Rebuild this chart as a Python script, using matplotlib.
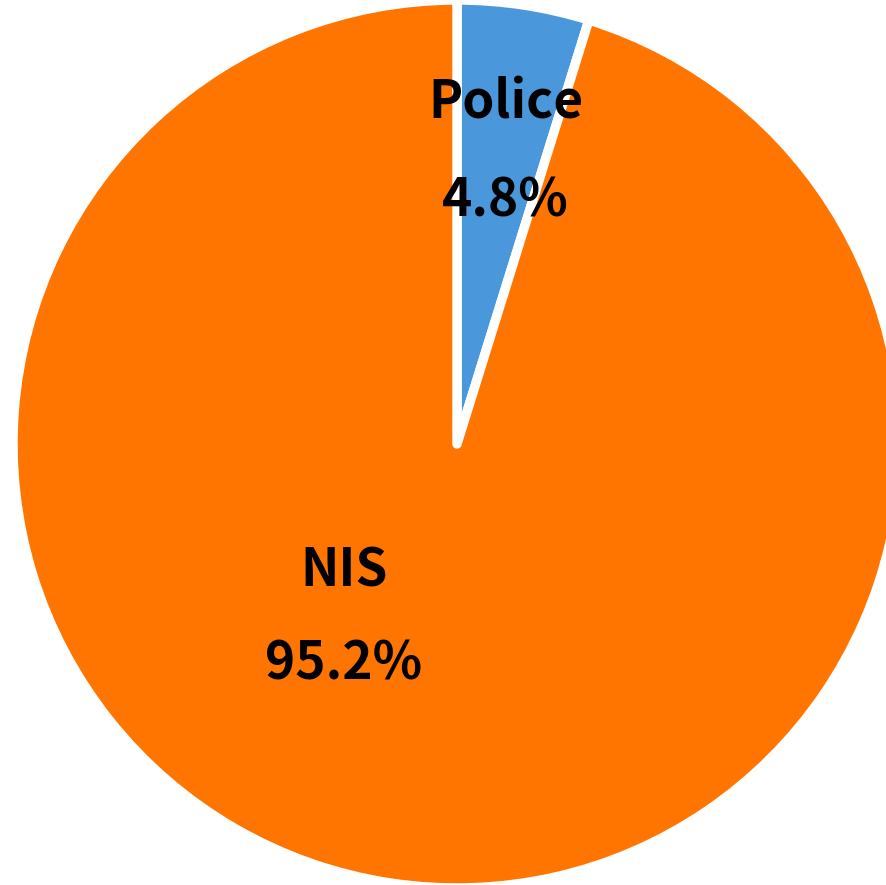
import matplotlib
matplotlib.use("Agg")
import matplotlib.pyplot as plt

labels = ["Police", "NIS"]
values = [4.8, 95.2]
colors = ["#4A98DB", "#FF7500"]

W, H = 887, 885
fig = plt.figure(figsize=(W / 100, H / 100), dpi=100)
ax = fig.add_axes([0, 0, 1, 1])

cx, cy, r = 457, H - 444, 444
ax.pie(values, colors=colors, startangle=90, counterclock=False,
       center=(cx, cy), radius=r, frame=True,
       wedgeprops=dict(edgecolor="white", linewidth=6.8, joinstyle="round"))
ax.set_xlim(0, W)
ax.set_ylim(0, H)
ax.set_aspect("equal")
ax.axis("off")

font = dict(family=["Noto Sans CJK KR", "DejaVu Sans"], fontweight="bold", fontsize=37,
            ha="center", va="center", color="black")
pos = [((506, 103), (505, 201)), ((344, 571), (344, 664))]
for lab, v, (p1, p2) in zip(labels, values, pos):
    ax.text(p1[0], H - p1[1], lab, **font)
    ax.text(p2[0], H - p2[1], f"{v}%", **font)

fig.savefig("out.png", dpi=100)
